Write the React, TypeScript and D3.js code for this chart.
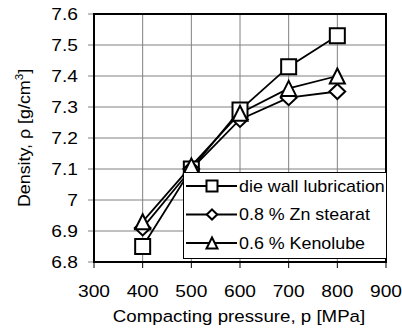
import React, { useEffect } from "react";
import * as d3 from "d3";

// Data
const pressures = [400, 500, 600, 700, 800];
const dieWall = [6.85, 7.1, 7.29, 7.43, 7.53];
const znStearat = [6.91, 7.1, 7.26, 7.33, 7.35];
const kenolube = [6.93, 7.11, 7.28, 7.36, 7.4];
const seriesNames = ["die wall lubrication", "0.8 % Zn stearat", "0.6 % Kenolube"];
const xTicks = [300, 400, 500, 600, 700, 800, 900];
const yTicks = [6.8, 6.9, 7.0, 7.1, 7.2, 7.3, 7.4, 7.5, 7.6];

// marker outline, r = half size
const marker = (k: number, r: number) => {
  if (k === 0) return `M${-r},${-r}H${r}V${r}H${-r}Z`;
  if (k === 1) return `M0,${-r}L${r * 1.05},0L0,${r}L${-r * 1.05},0Z`;
  return `M0,${-r}L${r},${r}L${-r},${r}Z`;
};

const App: React.FC = () => {
  useEffect(() => {
    document.body.style.margin = "0";
    d3.select("#viz_container").select("svg").remove();

    const W = 402;
    const H = 330;
    const margin = { top: 14, right: 16, bottom: 68, left: 94 };
    const width = W - margin.left - margin.right;
    const height = H - margin.top - margin.bottom;
    const font = "Liberation Sans, Arial, sans-serif";
    const sx = 1.13; // glyphs in the original are a bit wider

    const svg = d3
      .select("#viz_container")
      .append("svg")
      .attr("width", W)
      .attr("height", H)
      .style("display", "block")
      .style("background", "#fff");

    const g = svg.append("g").attr("transform", `translate(${margin.left},${margin.top})`);

    const x = d3.scaleLinear().domain([300, 900]).range([0, width]);
    const y = d3.scaleLinear().domain([6.8, 7.6]).range([height, 0]);

    // grid
    g.append("g")
      .selectAll("line")
      .data(xTicks)
      .join("line")
      .attr("x1", (d) => x(d))
      .attr("x2", (d) => x(d))
      .attr("y1", 0)
      .attr("y2", height)
      .attr("stroke", "#808080")
      .attr("stroke-width", 1);
    g.append("g")
      .selectAll("line")
      .data(yTicks)
      .join("line")
      .attr("x1", -6)
      .attr("x2", width)
      .attr("y1", (d) => y(d))
      .attr("y2", (d) => y(d))
      .attr("stroke", "#808080")
      .attr("stroke-width", 1);

    // frame
    g.append("rect")
      .attr("x", 0)
      .attr("y", 0)
      .attr("width", width)
      .attr("height", height)
      .attr("fill", "none")
      .attr("stroke", "#000")
      .attr("stroke-width", 2);

    // x axis ticks + labels
    g.append("g")
      .selectAll("line")
      .data(xTicks)
      .join("line")
      .attr("x1", (d) => x(d))
      .attr("x2", (d) => x(d))
      .attr("y1", height)
      .attr("y2", height + 6)
      .attr("stroke", "#000")
      .attr("stroke-width", 1);
    g.append("g")
      .selectAll("text")
      .data(xTicks)
      .join("text")
      .attr("transform", (d) => `translate(${x(d)},${height + 35}) scale(${sx},1)`)
      .attr("text-anchor", "middle")
      .attr("font-family", font)
      .attr("font-size", 17)
      .text((d) => d);

    // y labels
    g.append("g")
      .selectAll("text")
      .data(yTicks)
      .join("text")
      .attr("transform", (d) => `translate(-16,${y(d)}) scale(${sx},1)`)
      .attr("dy", "0.35em")
      .attr("text-anchor", "end")
      .attr("font-family", font)
      .attr("font-size", 17)
      .text((d) => d3.format("")(+d.toFixed(1)));

    // axis titles
    svg
      .append("text")
      .attr("transform", `translate(${margin.left + width / 2 - 1},322) scale(1.1,1)`)
      .attr("text-anchor", "middle")
      .attr("font-family", font)
      .attr("font-size", 17)
      .text("Compacting pressure, p [MPa]");

    const yt = svg
      .append("text")
      .attr("transform", `translate(30,${margin.top + height / 2}) rotate(-90) scale(1.05,1)`)
      .attr("text-anchor", "middle")
      .attr("font-family", font)
      .attr("font-size", 17);
    yt.append("tspan").text("Density, \u03c1 [g/cm");
    yt.append("tspan").attr("font-size", 11).attr("dy", -7).text("3");
    yt.append("tspan").attr("dy", 7).text("]");

    // series
    const allSeries = [dieWall, znStearat, kenolube];

    const line = d3
      .line<number>()
      .x((_, i) => x(pressures[i]))
      .y((d) => y(d));

    allSeries.forEach((s) => {
      g.append("path")
        .attr("d", line(s) as string)
        .attr("fill", "none")
        .attr("stroke", "#000")
        .attr("stroke-width", 1.8);
    });

    allSeries.forEach((s, k) => {
      g.append("g")
        .selectAll("path")
        .data(s)
        .join("path")
        .attr("transform", (d, i) => `translate(${x(pressures[i])},${y(d)})`)
        .attr("d", marker(k, 7.5))
        .attr("fill", "#fff")
        .attr("stroke", "#000")
        .attr("stroke-width", 2);
    });

    // legend
    const lg = svg.append("g");
    lg.append("rect")
      .attr("x", 183.5)
      .attr("y", 172.5)
      .attr("width", 203)
      .attr("height", 86)
      .attr("fill", "#fff")
      .attr("stroke", "#000")
      .attr("stroke-width", 1);
    seriesNames.forEach((name, k) => {
      const cy = 186 + k * 28.5;
      lg.append("line")
        .attr("x1", 186)
        .attr("x2", 237)
        .attr("y1", cy)
        .attr("y2", cy)
        .attr("stroke", "#000")
        .attr("stroke-width", 2);
      lg.append("path")
        .attr("transform", `translate(212,${cy})`)
        .attr("d", marker(k, k === 1 ? 5 : 5.5))
        .attr("fill", "#fff")
        .attr("stroke", "#000")
        .attr("stroke-width", 2);
      lg.append("text")
        .attr("transform", `translate(239,${cy}) scale(1.05,1)`)
        .attr("dy", "0.35em")
        .attr("font-family", font)
        .attr("font-size", 17)
        .text(name);
    });
  }, []);

  return <div id="viz_container" />;
};

export default App;
